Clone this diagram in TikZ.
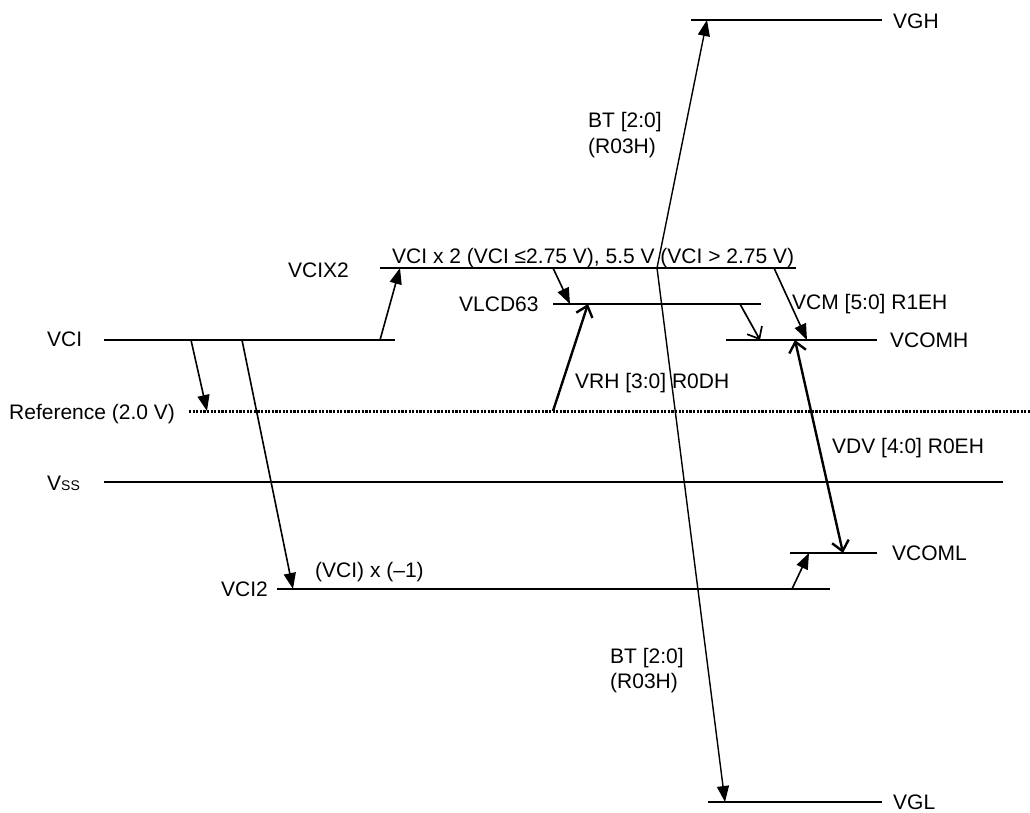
\documentclass[tikz,border=0pt]{standalone}
\usepackage{fontspec}
\setmainfont{Liberation Sans}
\usetikzlibrary{arrows.meta}
\begin{document}
\begin{tikzpicture}[x=1pt,y=-1pt,
  lvl/.style={line width=2.4pt},
  refline/.style={line width=3pt, dash pattern=on 2.2pt off 1.4pt},
  lbl/.style={inner sep=0pt, anchor=base west, font=\fontsize{21}{25}\selectfont},
  farrow/.style={line width=1.6pt, -{Triangle[length=16pt,width=12pt]}},
  thinarrow/.style={line width=1.4pt, -{Triangle[length=16pt,width=12pt]}},
  oarrow/.style={line width=1.7pt, -{Straight Barb[length=10pt,width=17pt]}},
  oarrowthick/.style={line width=2.4pt, -{Straight Barb[length=10pt,width=17pt]}},
  darrowthick/.style={line width=2.4pt, {Straight Barb[length=10pt,width=17pt]}-{Straight Barb[length=10pt,width=17pt]}}]
\useasboundingbox (0,0) rectangle (1030,812);

% level lines
\coordinate (vghL) at (691,20);   \coordinate (vghR) at (882,20);
\coordinate (x2L) at (380,268);   \coordinate (x2R) at (796,268);
\coordinate (lcdL) at (553,304);  \coordinate (lcdR) at (761,304);
\coordinate (vciL) at (104,340);  \coordinate (vciR) at (395,340);
\coordinate (comhL) at (726,340); \coordinate (comhR) at (877,340);
\coordinate (refL) at (189,411);  \coordinate (refR) at (1030,411);
\coordinate (vssL) at (104,482);  \coordinate (vssR) at (1003,482);
\coordinate (comlL) at (790,553); \coordinate (comlR) at (877,553);
\coordinate (ci2L) at (277,589);  \coordinate (ci2R) at (830,589);
\coordinate (vglL) at (708,802);  \coordinate (vglR) at (882,802);

\draw[lvl] (vghL) -- (vghR);
\draw[lvl] (x2L) -- (x2R);
\draw[lvl] (lcdL) -- (lcdR);
\draw[lvl] (vciL) -- (vciR);
\draw[lvl] (comhL) -- (comhR);
\draw[refline] (refL) -- (refR);
\draw[lvl] (vssL) -- (vssR);
\draw[lvl] (comlL) -- (comlR);
\draw[lvl] (ci2L) -- (ci2R);
\draw[lvl] (vglL) -- (vglR);

% arrow end points
\coordinate (a1s) at (380,340); \coordinate (a1e) at (400,268);
\coordinate (a2s) at (553,268); \coordinate (a2e) at (570,304);
\coordinate (a3s) at (553,411); \coordinate (a3e) at (588,304);
\coordinate (a4s) at (740,304); \coordinate (a4e) at (760,340);
\coordinate (a5s) at (774,268); \coordinate (a5e) at (807,340);
\coordinate (a6s) at (795,340); \coordinate (a6e) at (843,553);
\coordinate (a7s) at (792,589); \coordinate (a7e) at (809,553);
\coordinate (a8s) at (191,340); \coordinate (a8e) at (207,411);
\coordinate (a9s) at (242,340); \coordinate (a9e) at (293,589);
\coordinate (bts) at (657,268);
\coordinate (bth) at (707,20);  \coordinate (btl) at (725,802);

\draw[farrow] (a1s) -- (a1e);
\draw[farrow] (a2s) -- (a2e);
\draw[oarrowthick] (a3s) -- (a3e);
\draw[oarrow] (a4s) -- (a4e);
\draw[farrow] (a5s) -- (a5e);
\draw[darrowthick] (a6s) -- (a6e);
\draw[farrow] (a7s) -- (a7e);
\draw[farrow] (a8s) -- (a8e);
\draw[farrow] (a9s) -- (a9e);
\draw[thinarrow] (bts) -- (bth);
\draw[thinarrow] (bts) -- (btl);

% labels
\node[lbl] (tvgh) at (893,28) {VGH};
\node[lbl] (tvgl) at (893,809) {VGL};
\node[lbl] (tcomh) at (890,347) {VCOMH};
\node[lbl] (tcoml) at (892,560) {VCOML};
\node[lbl] (tvci) at (47,346) {VCI};
\node[lbl] (tref) at (9,419) {Reference (2.0 V)};
\node[lbl] (tvss) at (47,490) {V{\fontsize{14}{14}\selectfont SS}};
\node[lbl] (tvci2) at (221,596) {VCI2};
\node[lbl] (tneg) at (315,577) {(VCI) x (–1)};
\node[lbl] (tx2) at (288,277) {VCIX2};
\node[lbl] (tx2v) at (392,263) {VCI x 2 (VCI ≤2.75 V), 5.5 V (VCI > 2.75 V)};
\node[lbl] (tlcd) at (459,311) {VLCD63};
\node[lbl] (tvcm) at (792,309) {VCM [5:0] R1EH};
\node[lbl] (tvrh) at (575,388) {VRH [3:0] R0DH};
\node[lbl] (tvdv) at (832,453) {VDV [4:0] R0EH};
\node[lbl] (tbt1) at (588,127) {BT [2:0]};
\node[lbl] (tbt1r) at (588,153) {(R03H)};
\node[lbl] (tbt2) at (610,663) {BT [2:0]};
\node[lbl] (tbt2r) at (610,688) {(R03H)};
\end{tikzpicture}
\end{document}
